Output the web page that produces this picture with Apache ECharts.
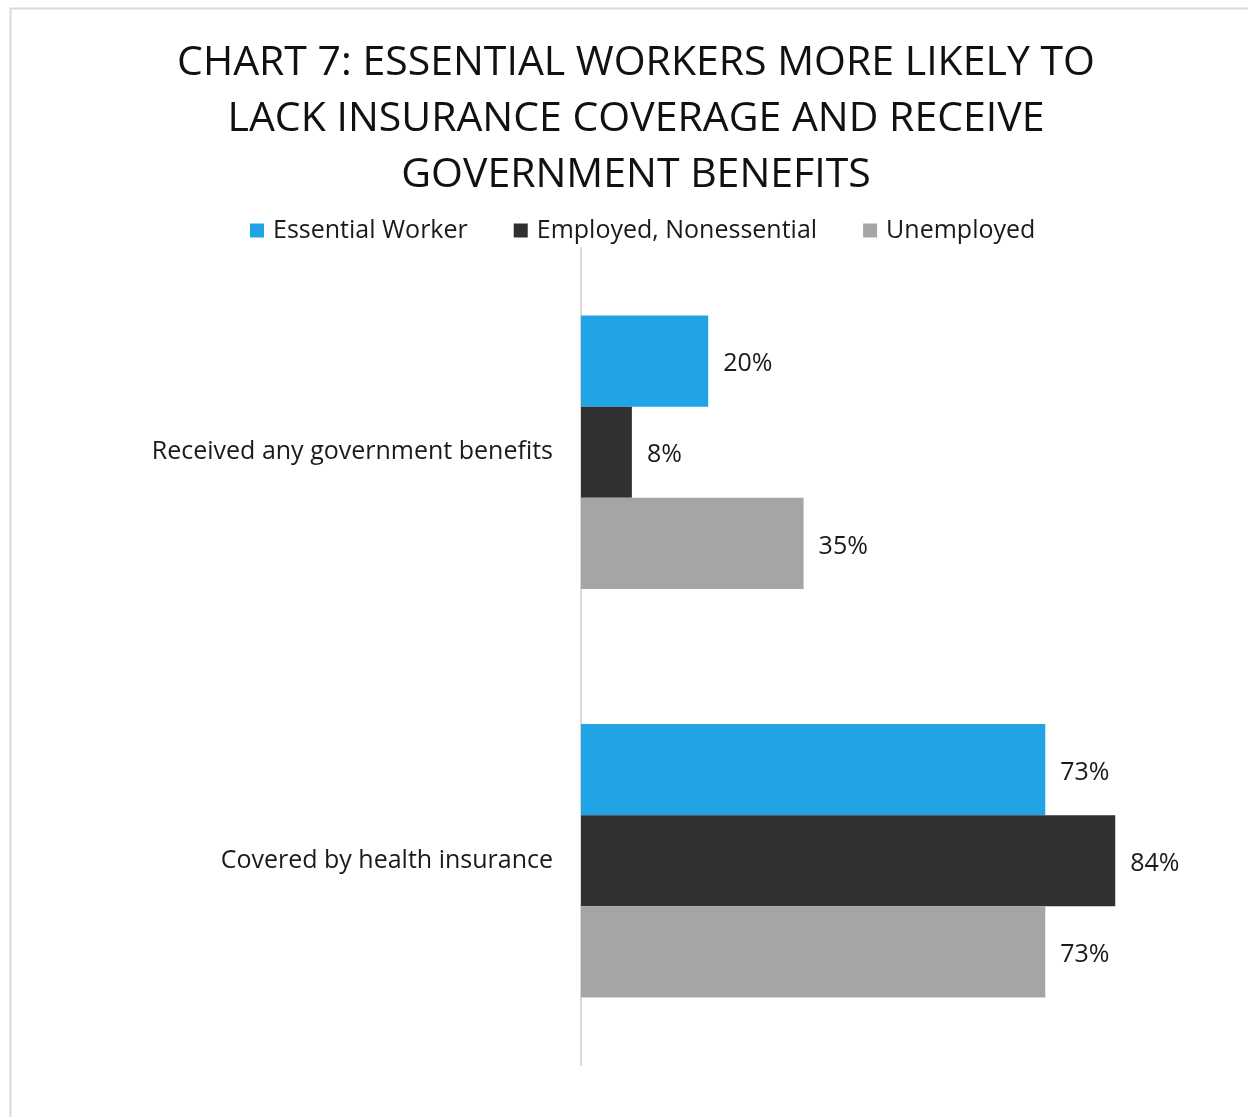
<!DOCTYPE html>
<html>
<head>
<meta charset="utf-8">
<script src="https://cdn.jsdelivr.net/npm/echarts@6/dist/echarts.min.js"></script>
<style>
  html, body { margin: 0; padding: 0; background: #fff; }
  #chart { width: 1248px; height: 1117px; }
</style>
</head>
<body>
<div id="chart"></div>
<script>
// Categories, listed top to bottom
const categories = ['Received any government benefits', 'Covered by health insurance'];
const seriesNames = ['Essential Worker', 'Employed, Nonessential', 'Unemployed'];
const essentialWorker = [20, 73];
const employedNonessential = [8, 84];
const unemployed = [35, 73];
const colors = ['#20A4E6', '#303030', '#A5A5A5'];

const FONT = 'Open Sans';
const chart = echarts.init(document.getElementById('chart'));

const valueLabel = {
  show: true,
  position: 'right',
  distance: 15,
  offset: [0, 3],
  formatter: p => p.value + '%',
  fontFamily: FONT,
  fontSize: 25,
  color: '#1a1a1a'
};

const makeSeries = (name, data, i) => ({
  name: name,
  type: 'bar',
  data: data,
  barGap: '0%',
  barCategoryGap: '33%',
  itemStyle: { color: colors[i] },
  label: valueLabel,
  emphasis: { disabled: true }
});

chart.setOption({
  animation: false,
  title: {
    text: 'CHART 7: ESSENTIAL WORKERS MORE LIKELY TO\nLACK INSURANCE COVERAGE AND RECEIVE\nGOVERNMENT BENEFITS',
    left: 631,
    textAlign: 'center',
    top: 30,
    textStyle: {
      fontFamily: FONT,
      fontWeight: 'normal',
      fontSize: 41,
      lineHeight: 56,
      color: '#111'
    }
  },
  legend: {
    data: seriesNames,
    top: 213,
    left: 245,
    icon: 'rect',
    itemWidth: 14,
    itemHeight: 14,
    itemGap: 46,
    textStyle: { fontFamily: FONT, fontSize: 25, color: '#1a1a1a', padding: [0, 0, 0, 4] }
  },
  graphic: [{
    type: 'rect',
    shape: { x: 10.5, y: 8.5, width: 1300, height: 1200 },
    style: { fill: 'none', stroke: '#d9d9d9', lineWidth: 2 },
    silent: true
  }],
  grid: { left: 581, right: 31, top: 248, bottom: 52, containLabel: false },
  xAxis: {
    type: 'value',
    min: 0,
    max: 100,
    show: false
  },
  yAxis: {
    type: 'category',
    data: categories,
    inverse: true,
    axisLine: { show: true, lineStyle: { color: '#d9d9d9', width: 2 } },
    axisTick: { show: false },
    axisLabel: {
      margin: 28,
      padding: [5, 0, 0, 0],
      fontFamily: FONT,
      fontSize: 25,
      color: '#1a1a1a'
    }
  },
  series: [
    makeSeries(seriesNames[0], essentialWorker, 0),
    makeSeries(seriesNames[1], employedNonessential, 1),
    makeSeries(seriesNames[2], unemployed, 2)
  ]
});
</script>
</body>
</html>
